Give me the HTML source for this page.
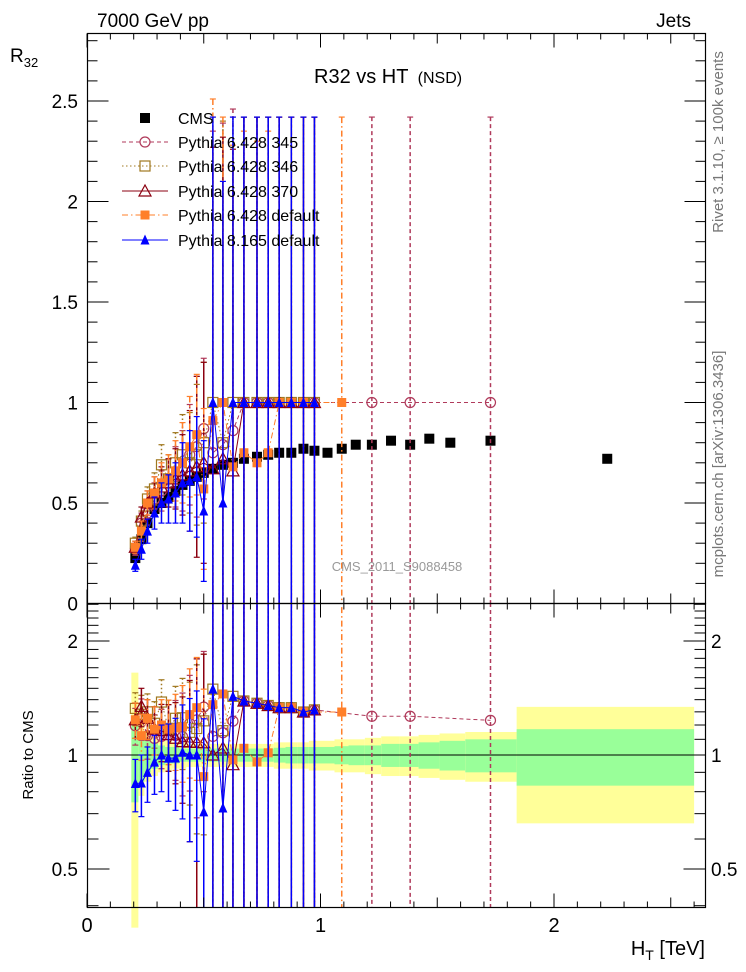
<!DOCTYPE html>
<html><head><meta charset="utf-8"><style>
html,body{margin:0;padding:0;background:#fff;overflow:hidden;width:746px;height:972px;}
svg{display:block;font-family:"Liberation Sans",Arial,sans-serif;}
</style></head><body>
<svg id="chart" width="746" height="972" viewBox="0 0 746 972">
<defs>
<clipPath id="cm"><rect x="88" y="33" width="617" height="570"/></clipPath>
<clipPath id="cr"><rect x="88" y="603" width="617" height="304"/></clipPath>
</defs>
<g id="band"></g>
<g id="main" clip-path="url(#cm)"></g>
<g id="ratio" clip-path="url(#cr)"></g>
<g id="axes"></g>
<text x="97" y="27" font-size="19">7000 GeV pp</text>
<text x="691" y="27" font-size="19" text-anchor="end">Jets</text>
<text x="314" y="83" font-size="20">R32 vs HT <tspan font-size="16" dx="4">(NSD)</tspan></text>
<text x="10" y="62" font-size="19">R<tspan font-size="13" dy="5">32</tspan></text>
<text x="28" y="755" font-size="15" text-anchor="middle" transform="rotate(-90 28 755)" dy="5">Ratio to CMS</text>
<text x="705" y="955" font-size="20" text-anchor="end">H<tspan font-size="14" dy="5">T</tspan><tspan dy="-5"> [TeV]</tspan></text>
<text x="723" y="142" font-size="15" fill="#777" text-anchor="middle" transform="rotate(-90 723 142)">Rivet 3.1.10, ≥ 100k events</text>
<text x="723" y="464" font-size="15" fill="#777" text-anchor="middle" transform="rotate(-90 723 464)">mcplots.cern.ch [arXiv:1306.3436]</text>
<text x="397" y="571" font-size="13" fill="#999" text-anchor="middle">CMS_2011_S9088458</text>
<g id="legend"></g>
</svg>
<script>
const xs = [0.207,0.233,0.259,0.289,0.319,0.349,0.379,0.409,0.440,0.470,0.500,0.539,0.582,0.625,0.672,0.728,0.776,0.823,0.875,0.927,0.974,1.030,1.091,1.151,1.220,1.302,1.384,1.466,1.556,1.728,2.228];
const edges = [0.19,0.22,0.246,0.274,0.304,0.334,0.364,0.394,0.425,0.455,0.485,0.52,0.56,0.604,0.648,0.70,0.752,0.80,0.85,0.90,0.95,1.0,1.06,1.12,1.19,1.26,1.34,1.42,1.51,1.62,1.84,2.6];
const cms = [0.226,0.32,0.40,0.47,0.50,0.53,0.56,0.59,0.61,0.63,0.65,0.67,0.69,0.70,0.72,0.73,0.74,0.75,0.75,0.77,0.76,0.75,0.77,0.79,0.79,0.81,0.79,0.82,0.80,0.81,0.72];
const cmsErr = [0.02,0.015,0.012,0.01,0.01,0.01,0.01,0.01,0.01,0.01,0.01,0.01,0.01,0.01,0.01,0.01,0.01,0.01,0.01,0.01,0.01,0.01,0.01,0.01,0.01,0.01,0.01,0.01,0.01,0.01,0.01];
const bandStat = [0.25,0.15,0.10,0.08,0.06,0.05,0.05,0.04,0.04,0.04,0.04,0.04,0.04,0.04,0.04,0.04,0.04,0.045,0.05,0.05,0.05,0.05,0.055,0.06,0.06,0.07,0.07,0.08,0.09,0.10,0.17];
const bandTot = [0.65,0.22,0.15,0.12,0.10,0.09,0.08,0.08,0.07,0.07,0.07,0.07,0.07,0.07,0.07,0.07,0.07,0.08,0.08,0.08,0.09,0.09,0.10,0.10,0.11,0.12,0.12,0.13,0.14,0.15,0.34];
const p345 = [0.27,0.40,0.45,0.52,0.56,0.60,0.63,0.66,0.74,0.78,0.87,0.75,0.79,0.86,1,1,1,1,1,1,1,null,null,null,1,null,1,null,null,1,null];
const p345Err = [0.03,0.05,0.06,0.08,0.10,0.12,0.15,0.2,0.25,0.35,0.35,1.6,1.6,1.6,1.42,1.42,1.42,1.42,1.42,1.42,1.42,0,0,0,1.42,0,1.42,0,0,1.42,0];
const p346 = [0.30,0.41,0.52,0.57,0.69,0.62,0.70,0.74,0.70,0.74,0.80,1,0.80,1,1,1,1,1,1,1,1,null,null,null,null,null,null,null,null,null,null];
const p346Err = [0.03,0.05,0.06,0.08,0.10,0.12,0.15,0.2,0.25,0.35,0.4,1.42,1.6,1.42,1.42,1.42,1.42,1.42,1.42,1.42,1.42,0,0,0,0,0,0,0,0,0,0];
const p370 = [0.28,0.43,0.50,0.55,0.58,0.60,0.62,0.64,0.66,0.68,0.70,0.67,0.72,0.66,1,1,1,1,1,1,1,null,null,null,null,null,null,null,null,null,null];
const p370Err = [0.03,0.05,0.06,0.08,0.10,0.12,0.15,0.2,0.3,0.45,0.5,1.6,1.6,1.6,1.42,1.42,1.42,1.42,1.42,1.42,1.42,0,0,0,0,0,0,0,0,0,0];
const pdef = [0.28,0.36,0.50,0.55,0.60,0.62,0.66,0.70,0.78,0.84,0.57,0.91,1,0.68,0.75,0.70,0.75,1,1,1,null,null,1,null,null,null,null,null,null,null,null];
const pdefErr = [0.03,0.05,0.06,0.08,0.10,0.12,0.15,0.2,0.25,0.3,0.4,1.6,1.42,1.6,1.6,1.6,1.6,1.42,1.42,1.42,0,0,1.42,0,0,0,0,0,0,0,0];
const p8 = [0.19,0.27,0.36,0.45,0.50,0.52,0.55,0.60,0.61,0.63,0.46,1,0.50,1,1,1,1,1,1,1,1,null,null,null,null,null,null,null,null,null,null];
const p8Err = [0.03,0.05,0.06,0.08,0.10,0.12,0.15,0.2,0.25,0.3,0.35,1.42,1.6,1.42,1.42,1.42,1.42,1.42,1.42,1.42,1.42,0,0,0,0,0,0,0,0,0,0];

const NS = "http://www.w3.org/2000/svg";
const X = t => 87 + t * 233.5;
const Y = r => 603.5 - r * 201;
const YR = q => 755 - 114 * Math.log2(q);
function mk(parent, tag, attrs) {
  const e = document.createElementNS(NS, tag);
  for (const k in attrs) e.setAttribute(k, attrs[k]);
  parent.appendChild(e);
  return e;
}
const band = document.getElementById('band');
const main = document.getElementById('main');
const ratio = document.getElementById('ratio');
const axes = document.getElementById('axes');

for (let i = 0; i < xs.length; i++) {
  const x0 = X(edges[i]), x1 = X(edges[i + 1]);
  const lo = Math.max(1 - bandTot[i], 0.3);
  const y = mk(band, 'rect', {x: x0, y: YR(1 + bandTot[i]), width: x1 - x0, height: YR(lo) - YR(1 + bandTot[i]), fill: '#ffff99'});
  
  
  const g = mk(band, 'rect', {x: x0, y: YR(1 + bandStat[i]), width: x1 - x0, height: YR(1 - bandStat[i]) - YR(1 + bandStat[i]), fill: '#99ff99'});
  
  
}
const unity = mk(band, 'line', {x1: 88, x2: 705, y1: 755, y2: 755, stroke: '#000', 'stroke-width': 1});



function marker(g, type, color, x, y, s) {
  let e;
  if (type === 'sqf') e = mk(g, 'rect', {x: x - s, y: y - s, width: 2 * s, height: 2 * s, fill: color});
  else if (type === 'sqo') e = mk(g, 'rect', {x: x - s, y: y - s, width: 2 * s, height: 2 * s, fill: 'none', stroke: color, 'stroke-width': 1.2});
  else if (type === 'circ') e = mk(g, 'circle', {cx: x, cy: y, r: s, fill: 'none', stroke: color, 'stroke-width': 1.2});
  else if (type === 'trio') e = mk(g, 'polygon', {points: `${x},${y - s - 1} ${x - s - 1},${y + s} ${x + s + 1},${y + s}`, fill: 'none', stroke: color, 'stroke-width': 1.2});
  else e = mk(g, 'polygon', {points: `${x},${y - s - 1} ${x - s},${y + s} ${x + s},${y + s}`, fill: color});
  
  
}

const series = [
  {vals: p345, err: p345Err, color: '#b03a5b', dash: '4,3', m: 'circ', s: 5, name: 'pythia-6428-345'},
  {vals: p346, err: p346Err, color: '#a07820', dash: '1.5,2.5', m: 'sqo', s: 5, name: 'pythia-6428-346'},
  {vals: p370, err: p370Err, color: '#8b0010', dash: '', m: 'trio', s: 5, name: 'pythia-6428-370'},
  {vals: pdef, err: pdefErr, color: '#ff7f2a', dash: '6,3,1.5,3', m: 'sqf', s: 4.5, name: 'pythia-6428-default'},
  {vals: p8, err: p8Err, color: '#0000ff', dash: '', m: 'trif', s: 4.5, name: 'pythia-8165-default'}
];

function drawSeries(parent, sr, yf, isRatio) {
  const g = mk(parent, 'g', {});
  
  
  for (let i = 0; i < xs.length; i++) {
    const v = sr.vals[i];
    if (v === null) continue;
    const base = isRatio ? cms[i] : 1;
    const hi = (v + sr.err[i]) / base, lo = Math.max((v - sr.err[i]) / base, 0.01);
    const x = X(xs[i]);
    const yh = isRatio ? yf(hi) : yf(v + sr.err[i]);
    const yl = isRatio ? yf(lo) : yf(v - sr.err[i]);
    const e = mk(g, 'line', {x1: x, x2: x, y1: yh, y2: yl, stroke: sr.color, 'stroke-width': 1.5, 'stroke-dasharray': sr.dash});
    
    
    mk(g, 'line', {x1: x - 3, x2: x + 3, y1: yh, y2: yh, stroke: sr.color, 'stroke-width': 1.2});
    mk(g, 'line', {x1: x - 3, x2: x + 3, y1: yl, y2: yl, stroke: sr.color, 'stroke-width': 1.2});
  }
  let pts = [];
  for (let i = 0; i < xs.length; i++) {
    const v = sr.vals[i];
    if (v === null) continue;
    pts.push(X(xs[i]) + ',' + (isRatio ? yf(v / cms[i]) : yf(v)));
  }
  const pl = mk(g, 'polyline', {points: pts.join(' '), fill: 'none', stroke: sr.color, 'stroke-width': 1, 'stroke-dasharray': sr.dash});
  
  
  for (let i = 0; i < xs.length; i++) {
    const v = sr.vals[i];
    if (v === null) continue;
    marker(g, sr.m, sr.color, X(xs[i]), isRatio ? yf(v / cms[i]) : yf(v), sr.s);
  }
}

const cg = mk(main, 'g', {});


for (let i = 0; i < xs.length; i++) {
  const x = X(xs[i]);
  mk(cg, 'line', {x1: x, x2: x, y1: Y(cms[i] + cmsErr[i]), y2: Y(cms[i] - cmsErr[i]), stroke: '#000', 'stroke-width': 1});
  marker(cg, 'sqf', '#000', x, Y(cms[i]), 5);
}
series.forEach(sr => drawSeries(main, sr, Y, false));
series.forEach(sr => drawSeries(ratio, sr, YR, true));

const f1 = mk(axes, 'rect', {x: 87.5, y: 33.5, width: 618, height: 570, fill: 'none', stroke: '#000', 'stroke-width': 1.2});


const f2 = mk(axes, 'rect', {x: 87.5, y: 603.5, width: 618, height: 304, fill: 'none', stroke: '#000', 'stroke-width': 1.2});



for (let k = 0; k <= 26; k++) {
  const t = k / 10, x = X(t);
  const len = (k % 10 === 0) ? 14 : (k % 5 === 0 ? 10 : 6);
  [[33.5, 1], [603.5, -1], [603.5, 1], [907.5, -1]].forEach(([y0, d]) => {
    mk(axes, 'line', {x1: x, x2: x, y1: y0, y2: y0 + d * len, stroke: '#000', 'stroke-width': 1});
  });
}
const xl = ['0', '1', '2'];
xl.forEach((s, i) => {
  const e = mk(axes, 'text', {x: X(i), y: 932, 'font-size': 20, 'text-anchor': 'middle'});
  e.textContent = s;
  
  
});
for (let k = 1; k <= 28; k++) {
  const r = k / 10, y = Y(r);
  const len = (k % 5 === 0) ? 21 : 10;
  mk(axes, 'line', {x1: 87.5, x2: 87.5 + len, y1: y, y2: y, stroke: '#000', 'stroke-width': 1});
  mk(axes, 'line', {x1: 705.5, x2: 705.5 - len, y1: y, y2: y, stroke: '#000', 'stroke-width': 1});
}
const yl = ['0', '0.5', '1', '1.5', '2', '2.5'];
yl.forEach((s, i) => {
  const e = mk(axes, 'text', {x: 78, y: Y(i * 0.5) + 7, 'font-size': 19, 'text-anchor': 'end'});
  e.textContent = s;
  
  
});
for (let k = 4; k <= 25; k++) {
  const q = k / 10, y = YR(q);
  if (y < 604 || y > 907) continue;
  const len = (k === 5 || k === 10 || k === 20) ? 22 : 11;
  mk(axes, 'line', {x1: 87.5, x2: 87.5 + len, y1: y, y2: y, stroke: '#000', 'stroke-width': 1});
  mk(axes, 'line', {x1: 705.5, x2: 705.5 - len, y1: y, y2: y, stroke: '#000', 'stroke-width': 1});
}
const rl = [[2, '2'], [1, '1'], [0.5, '0.5']];
rl.forEach(([q, s]) => {
  const e = mk(axes, 'text', {x: 78, y: YR(q) + 7, 'font-size': 19, 'text-anchor': 'end'});
  e.textContent = s;
  
  
  const e2 = mk(axes, 'text', {x: 711, y: YR(q) + 7, 'font-size': 19});
  e2.textContent = s;
  
  
});

const leg = document.getElementById('legend');
const legendNames = ['CMS', 'Pythia 6.428 345', 'Pythia 6.428 346', 'Pythia 6.428 370', 'Pythia 6.428 default', 'Pythia 8.165 default'];
const legY = [118, 142, 166, 191, 215, 240];
legendNames.forEach((nm, i) => {
  const g = mk(leg, 'g', {});
  
  
  const y = legY[i];
  if (i === 0) marker(g, 'sqf', '#000', 145, y, 5);
  else {
    const sr = series[i - 1];
    mk(g, 'line', {x1: 122, x2: 168, y1: y, y2: y, stroke: sr.color, 'stroke-width': 1, 'stroke-dasharray': sr.dash});
    marker(g, sr.m, sr.color, 145, y, sr.s);
  }
  const t = mk(g, 'text', {x: 178, y: y + 6, 'font-size': 16});
  t.textContent = nm;
});
</script>
</body></html>
